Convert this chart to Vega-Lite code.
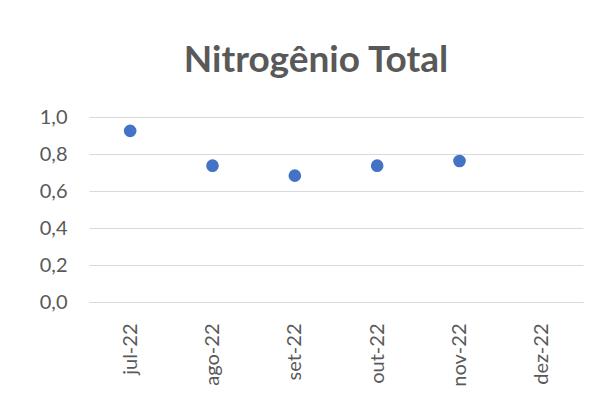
{
  "$schema": "https://vega.github.io/schema/vega-lite/v6.json",
  "width": 494,
  "height": 185,
  "autosize": {"type": "none"},
  "padding": {"left": 89, "top": 117, "right": 26, "bottom": 105},
  "background": "white",
  "title": {
    "text": "Nitrogênio Total",
    "font": "Lato",
    "fontSize": 37,
    "fontWeight": "bold",
    "color": "#595959",
    "anchor": "middle",
    "frame": "group",
    "baseline": "bottom",
    "dx": -20,
    "dy": 42,
    "offset": 32
  },
  "data": {
    "values": [
      {"mes": "jul-22", "valor": 0.925},
      {"mes": "ago-22", "valor": 0.737},
      {"mes": "set-22", "valor": 0.683},
      {"mes": "out-22", "valor": 0.737},
      {"mes": "nov-22", "valor": 0.762},
      {"mes": "dez-22", "valor": null}
    ]
  },
  "mark": {"type": "point", "filled": true, "size": 160, "color": "#4472C4", "opacity": 1},
  "encoding": {
    "x": {
      "field": "mes",
      "type": "nominal",
      "sort": null,
      "scale": {"domain": ["jul-22", "ago-22", "set-22", "out-22", "nov-22", "dez-22"], "paddingInner": 0, "paddingOuter": 0.5},
      "axis": {
        "title": null,
        "labelAngle": -90,
        "labelAlign": "right",
        "labelBaseline": "middle",
        "labelFont": "Lato",
        "labelFontSize": 20,
        "labelColor": "#595959",
        "labelPadding": 21,
        "ticks": false,
        "domain": true,
        "domainColor": "#d9d9d9",
        "grid": false
      }
    },
    "y": {
      "field": "valor",
      "type": "quantitative",
      "scale": {"domain": [0, 1], "nice": false},
      "axis": {
        "title": null,
        "values": [0, 0.2, 0.4, 0.6, 0.8, 1.0],
        "labelExpr": "replace(format(datum.value, '.1f'), '.', ',')",
        "labelFont": "Lato",
        "labelFontSize": 20,
        "labelColor": "#595959",
        "labelPadding": 22,
        "ticks": false,
        "domain": false,
        "grid": true,
        "gridColor": "#d9d9d9",
        "gridWidth": 1
      }
    }
  },
  "config": {"view": {"stroke": null}}
}
